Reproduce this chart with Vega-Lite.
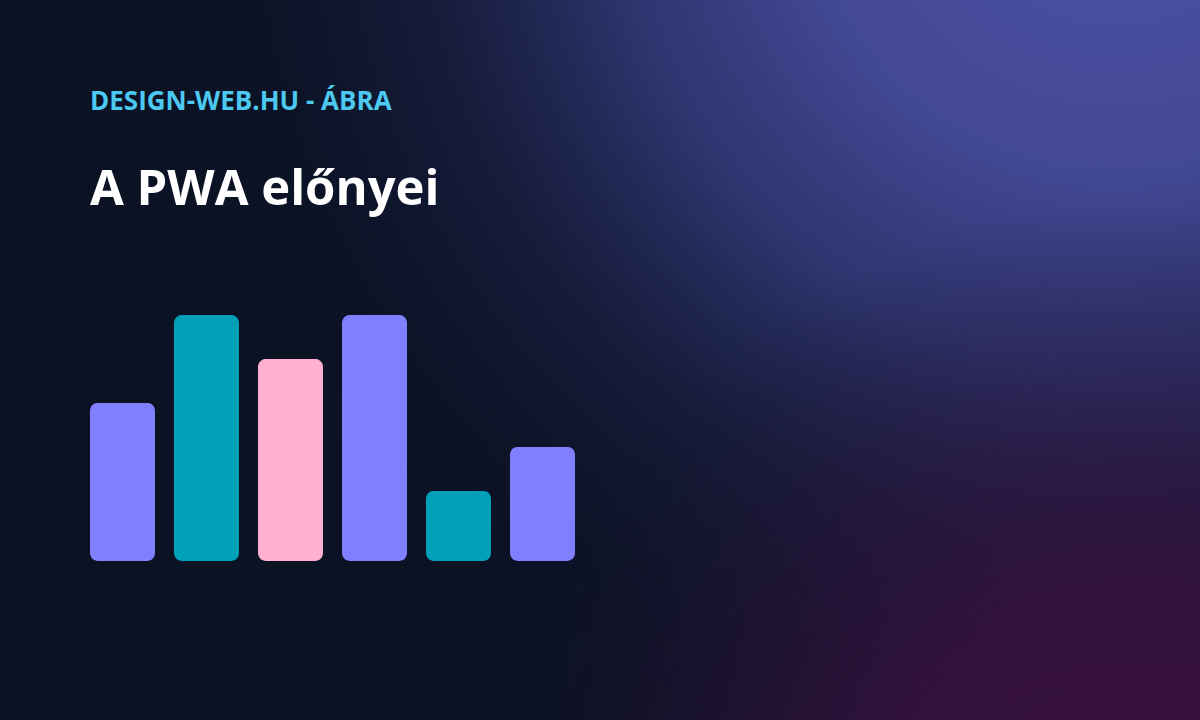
{
  "$schema": "https://vega.github.io/schema/vega-lite/v6.json",
  "width": 1200,
  "height": 720,
  "autosize": {"type": "fit", "contains": "padding"},
  "padding": 0,
  "background": "#0b1224",
  "config": {"view": {"stroke": null}},
  "title": {
    "text": "DESIGN-WEB.HU - ÁBRA",
    "subtitle": "A PWA előnyei",
    "anchor": "start",
    "frame": "group",
    "orient": "top",
    "offset": -215,
    "dx": 90,
    "font": "Open Sans",
    "fontSize": 26,
    "fontWeight": "bold",
    "color": "#4cc9f0",
    "subtitleFont": "Open Sans",
    "subtitleFontSize": 49,
    "subtitleFontWeight": "bold",
    "subtitleColor": "#ffffff",
    "subtitlePadding": 51
  },
  "data": {"values": [
    {"label": "1", "value": 36},
    {"label": "2", "value": 56},
    {"label": "3", "value": 46},
    {"label": "4", "value": 56},
    {"label": "5", "value": 16},
    {"label": "6", "value": 26}
  ]},
  "layer": [
    {
      "data": {"values": [{}]},
      "mark": {"type": "rect", "fill": {
        "gradient": "radial",
        "x1": 0.93, "y1": 0.08, "r1": 0,
        "x2": 0.93, "y2": 0.08, "r2": 0.85,
        "stops": [
          {"offset": 0, "color": "rgba(76,82,166,1)"},
          {"offset": 0.3, "color": "rgba(72,78,160,0.92)"},
          {"offset": 0.5, "color": "rgba(64,70,148,0.65)"},
          {"offset": 0.68, "color": "rgba(50,56,120,0.28)"},
          {"offset": 0.85, "color": "rgba(30,36,80,0.06)"},
          {"offset": 1, "color": "rgba(11,18,36,0)"}
        ]
      }},
      "encoding": {
        "x": {"value": 0}, "x2": {"value": "width"},
        "y": {"value": 0}, "y2": {"value": "height"}
      }
    },
    {
      "data": {"values": [{}]},
      "mark": {"type": "rect", "fill": {
        "gradient": "radial",
        "x1": 0.95, "y1": 0.92, "r1": 0,
        "x2": 0.95, "y2": 0.92, "r2": 0.55,
        "stops": [
          {"offset": 0, "color": "rgba(60,16,64,1)"},
          {"offset": 0.4, "color": "rgba(58,17,64,0.85)"},
          {"offset": 0.7, "color": "rgba(48,18,60,0.4)"},
          {"offset": 1, "color": "rgba(30,18,50,0)"}
        ]
      }},
      "encoding": {
        "x": {"value": 0}, "x2": {"value": "width"},
        "y": {"value": 0}, "y2": {"value": "height"}
      }
    },
    {
      "mark": {"type": "bar", "cornerRadius": 8},
      "encoding": {
        "x": {
          "field": "label", "type": "nominal", "sort": null,
          "scale": {"range": [90, 575], "paddingInner": 0.2262, "paddingOuter": 0},
          "axis": null
        },
        "y": {
          "field": "value", "type": "quantitative",
          "scale": {"domain": [-36.2, 127.7], "nice": false, "zero": false},
          "axis": null
        },
        "color": {
          "field": "label", "type": "nominal",
          "scale": {"domain": ["1", "2", "3", "4", "5", "6"], "range": ["#8080ff", "#00a0b8", "#ffb0d0", "#8080ff", "#00a0b8", "#8080ff"]},
          "legend": null
        }
      }
    }
  ]
}
